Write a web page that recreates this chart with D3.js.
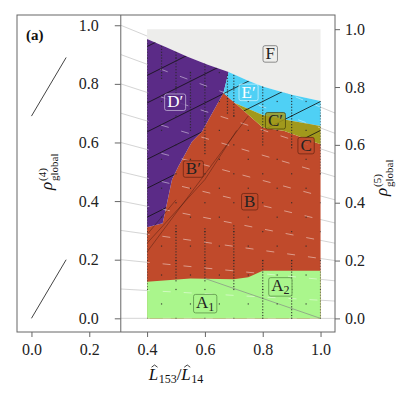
<!DOCTYPE html>
<html>
<head>
<meta charset="utf-8">
<script src="https://cdn.jsdelivr.net/npm/d3@7"></script>
<style>
  body { margin: 0; background: #fff; }
  svg text { font-family: "Liberation Serif", "DejaVu Serif", "Noto Serif", "Times New Roman", serif; }
</style>
</head>
<body>
<div id="chart"></div>
<script>
// ---- data (x = L153/L14, y = rho5 unless noted) ----
// lower edge of region F, left to right
var edgeTop = [[0.40,0.966],[0.47,0.936],[0.54,0.905],[0.61,0.877],[0.682,0.852],
               [0.75,0.822],[0.80,0.802],[0.90,0.773],[1.00,0.752]];
// edge between D' and B', top to bottom
var edgeDB = [[0.682,0.852],[0.664,0.779],[0.590,0.646],[0.555,0.611],[0.508,0.525],
              [0.486,0.479],[0.454,0.329],[0.40,0.315]];
// edge between E' and C'
var edgeEC = [[0.705,0.744],[0.80,0.703],[0.875,0.688],[1.00,0.665]];
// edge between C' and B
var edgeCB = [[0.705,0.744],[0.80,0.660],[0.875,0.648],[1.00,0.602]];
// edge between B and A
var edgeBA = [[0.40,0.127],[0.55,0.138],[0.70,0.135],[0.75,0.142],[0.80,0.165],[1.00,0.165]];
// line separating A1 / A2
var edgeA12 = [[0.60,0.138],[1.00,0.0]];

// sampled points
var gridX  = [0.4,0.5,0.6,0.7,0.8,0.9,1.0];
var gridY  = [0,0.1,0.2,0.3,0.4,0.5,0.6,0.7,0.8,0.9];
var gridX2 = [0.45,0.55,0.65,0.75,0.85,0.95];
var gridY2 = [0.05,0.15,0.25,0.35,0.45,0.55,0.65,0.75,0.85,0.95];
// refined columns: [x, from, to], sampled every 0.01
var columns = [[0.40,0.10,0.96],[0.45,0.83,0.94],[0.50,0.73,0.92],[0.50,0.13,0.32],
               [0.55,0.66,0.85],[0.60,0.57,0.88],[0.60,0.13,0.31],[0.678,0.71,0.84],
               [0.70,0.70,0.84],[0.70,0.11,0.32],[0.80,0.61,0.81],[0.80,0.0,0.20],
               [0.90,0.59,0.78],[0.90,0.0,0.20],[1.00,0.50,0.75],[1.00,0.0,0.20]];

// guide lines: rho4 at the split, rho5 at the right frame
var fanLeft  = [0,0.1,0.2,0.3,0.4,0.5,0.6,0.7,0.8,0.9,1.0];
var fanRight = [0,0.06,0.13,0.2,0.26,0.33,0.41,0.49,0.57,0.64,0.71];
// black contour lines in D', E', C' (rho at x=0.4, rho at x=1.0)
var contourStart = [0.94,0.84,0.745,0.645,0.55,0.45,0.35];
var contourEnd   = [1.24,1.14,1.045,0.945,0.85,0.75,0.65];
// black lines across B
var bLines = [[0.40,0.23,0.75,0.70],[0.40,0.26,0.60,0.48],[0.60,0.48,0.71,0.65],[0.40,0.29,0.50,0.41]];
// left panel segments (x, rho4)
var leftSegs = [[0,0.0,0.12,0.2],[0,0.69,0.12,0.89]];

// region labels
var labelBase = ["F","E","D","C","C","B","B","A","A"];
var labelMark = ["","\u2032","\u2032","\u2032","","\u2032","","",""];
var labelSub  = ["","","","","","","","1","2"];
var labelX    = [0.826,0.751,0.497,0.844,0.950,0.560,0.755,0.601,0.861];
var labelY    = [0.917,0.784,0.750,0.686,0.600,0.519,0.406,0.057,0.115];

var xTicks = [0,0.2,0.4,0.6,0.8,1.0];
var yTicks = [0,0.2,0.4,0.6,0.8,1.0];

// ---- drawing ----
var W = 408, H = 397;
var frame = {left: 17, top: 15, right: 335, bottom: 332};
var xSplit = 0.309;
var serif = "'Liberation Serif', 'DejaVu Serif', 'Noto Serif', 'Times New Roman', serif";

var x  = d3.scaleLinear().domain([-0.05, 1.05]).range([frame.left, frame.right]);
var y5 = d3.scaleLinear().domain([-0.047, 1.049]).range([frame.bottom, frame.top]);
var y4 = d3.scaleLinear().domain([-0.0467, 1.035]).range([frame.bottom, frame.top]);

var colF = "#ededeb", colD = "#5b2b87", colE = "#4fd0f5", colC = "#a1991c",
    colB = "#c04a2b", colA = "#aaf68c";

var svg = d3.select("#chart").append("svg").attr("width", W).attr("height", H);
var defs = svg.append("defs");

var line = d3.line();
function polyPath(arr) {
  return line(arr.map(function(d) { return [x(d[0]), y5(d[1])]; })) + "Z";
}

var regionF = [[0.4,1.0]].concat(edgeTop, [[1.0,1.0]]);
var regionD = edgeTop.slice(0,5).concat(edgeDB.slice(1));
var regionE = edgeTop.slice(4).concat(edgeEC.slice().reverse(), [edgeDB[1]]);
var regionC = edgeEC.concat(edgeCB.slice(1).reverse());
var regionB = edgeDB.slice(1).reverse().concat(edgeCB, [[1.0,0],[0.4,0]]);
var regionA = edgeBA.concat([[1.0,0],[0.4,0]]);
var regionAll = [[0.4,0]].concat(edgeTop, [[1.0,0]]);

defs.append("clipPath").attr("id","clipMain").append("rect")
  .attr("x", x(xSplit)).attr("y", frame.top)
  .attr("width", frame.right - x(xSplit)).attr("height", frame.bottom - frame.top);
defs.append("clipPath").attr("id","clipAll").append("path").attr("d", polyPath(regionAll));
var cUpper = defs.append("clipPath").attr("id","clipUpper");
[regionD, regionE, regionC].forEach(function(r) { cUpper.append("path").attr("d", polyPath(r)); });

// gray guide lines
var fan = fanLeft.map(function(v, i) { return [[x(xSplit), y4(v)], [x(1.05), y5(fanRight[i])]]; });
svg.append("g").attr("clip-path","url(#clipMain)")
  .selectAll("path").data(fan).enter().append("path")
  .attr("d", function(d) { return line(d); })
  .attr("stroke", "#cfcfcf").attr("stroke-width", 0.9).attr("fill", "none");

// regions
var regions = svg.append("g");
[[regionF,colF],[regionB,colB],[regionD,colD],[regionE,colE],[regionC,colC],[regionA,colA]]
  .forEach(function(r) {
    regions.append("path").attr("d", polyPath(r[0])).attr("fill", r[1]);
  });
regions.append("path").attr("d", line(edgeA12.map(function(d){ return [x(d[0]), y5(d[1])]; })))
  .attr("stroke", "#8a9a86").attr("stroke-width", 0.8).attr("fill", "none");

// light dashes over the coloured part
svg.append("g").attr("clip-path","url(#clipAll)")
  .selectAll("path").data(fan).enter().append("path")
  .attr("d", function(d) { return line(d); })
  .attr("stroke", "#fff").attr("stroke-opacity", 0.5).attr("stroke-width", 0.9)
  .attr("stroke-dasharray", "8,13").attr("fill", "none");

// black contour lines
svg.append("g").attr("clip-path","url(#clipUpper)")
  .selectAll("line").data(contourStart).enter().append("line")
  .attr("x1", x(0.4)).attr("y1", function(d) { return y5(d); })
  .attr("x2", x(1.0)).attr("y2", function(d, i) { return y5(contourEnd[i]); })
  .attr("stroke", "#111").attr("stroke-width", 0.8);
svg.append("g").selectAll("line").data(bLines).enter().append("line")
  .attr("x1", function(d) { return x(d[0]); }).attr("y1", function(d) { return y5(d[1]); })
  .attr("x2", function(d) { return x(d[2]); }).attr("y2", function(d) { return y5(d[3]); })
  .attr("stroke", "#1a0a05").attr("stroke-opacity", 0.6).attr("stroke-width", 0.55);

// sample points
var samples = [];
gridX.forEach(function(a) { gridY.forEach(function(b) { samples.push([a,b]); }); });
gridX2.forEach(function(a) { gridY2.forEach(function(b) { samples.push([a,b]); }); });
columns.forEach(function(c) {
  var n = Math.round((c[2] - c[1]) / 0.01);
  for (var k = 0; k <= n; k++) samples.push([c[0], c[1] + k * 0.01]);
});
svg.append("g").attr("clip-path","url(#clipAll)")
  .selectAll("rect").data(samples).enter().append("rect")
  .attr("x", function(d) { return x(d[0]) - 0.6; })
  .attr("y", function(d) { return y5(d[1]) - 0.6; })
  .attr("width", 1.2).attr("height", 1.2).attr("fill", "#2a2a2a").attr("fill-opacity", 0.85);

// region labels
var labelFill = [colF, colE, colD, colC, colB, colB, colB, colA, colA];
var labelText = ["#222","#fff","#fff","#222","#222","#222","#222","#222","#222"];
var labelEdge = ["#555","#e8f8ff","#d8d0e8","#3a3608","#5a1e0e","#5a1e0e","#5a1e0e","#4a7a3a","#4a7a3a"];
var labels = svg.append("g");
labelBase.forEach(function(b, i) {
  var g = labels.append("g");
  var t = g.append("text").attr("x", x(labelX[i])).attr("y", y5(labelY[i]) + 6)
    .attr("text-anchor", "middle").style("font-family", serif).attr("font-size", 17)
    .attr("fill", labelText[i]);
  t.append("tspan").text(b);
  if (labelMark[i]) t.append("tspan").text(labelMark[i]);
  if (labelSub[i]) t.append("tspan").attr("font-size", 12).attr("dy", 3).text(labelSub[i]);
  var bb = t.node().getBBox();
  g.insert("rect", "text")
    .attr("x", bb.x - 2.5).attr("y", bb.y + 1.5)
    .attr("width", bb.width + 5).attr("height", bb.height - 2.5)
    .attr("rx", 2).attr("fill", labelFill[i]).attr("fill-opacity", 0.85)
    .attr("stroke", labelEdge[i]).attr("stroke-opacity", 0.8).attr("stroke-width", 0.8);
});

// left panel segments
svg.append("g").selectAll("line").data(leftSegs).enter().append("line")
  .attr("x1", function(d) { return x(d[0]); }).attr("y1", function(d) { return y4(d[1]); })
  .attr("x2", function(d) { return x(d[2]); }).attr("y2", function(d) { return y4(d[3]); })
  .attr("stroke", "#444").attr("stroke-width", 1);

// frame + split
svg.append("rect").attr("x", frame.left).attr("y", frame.top)
  .attr("width", frame.right - frame.left).attr("height", frame.bottom - frame.top)
  .attr("fill", "none").attr("stroke", "#666").attr("stroke-width", 1);
svg.append("line").attr("x1", x(xSplit)).attr("x2", x(xSplit))
  .attr("y1", frame.top).attr("y2", frame.bottom)
  .attr("stroke", "#666").attr("stroke-width", 1);

// axes
var fmt = d3.format(".1f");
function styleAxis(g) {
  g.attr("font-family", null);
  g.select(".domain").remove();
  g.selectAll(".tick line").attr("stroke", "#666");
  g.selectAll(".tick text").attr("fill", "#222").attr("font-size", 16)
    .style("font-family", serif);
}
svg.append("g").attr("transform", "translate(0," + frame.bottom + ")")
  .call(d3.axisBottom(x).tickValues(xTicks).tickFormat(fmt).tickSize(5).tickPadding(7))
  .call(styleAxis);
svg.append("g").attr("transform", "translate(" + x(xSplit) + ",0)")
  .call(d3.axisLeft(y4).tickValues(yTicks).tickFormat(fmt).tickSize(6).tickPadding(16))
  .call(styleAxis);
svg.append("g").attr("transform", "translate(" + frame.right + ",0)")
  .call(d3.axisRight(y5).tickValues(yTicks).tickFormat(fmt).tickSize(5).tickPadding(5))
  .call(styleAxis);

// panel tag
svg.append("text").attr("x", 26).attr("y", 40).attr("font-size", 15)
  .style("font-family", serif).attr("font-weight", "bold").attr("fill", "#111").text("(a)");

// rho axis titles
function rhoTitle(cx, cy, sup) {
  var g = svg.append("g").attr("transform", "translate(" + cx + "," + cy + ") rotate(-90)");
  g.append("text").attr("x", -20).attr("y", 0).attr("font-size", 17).style("font-family", serif)
    .attr("font-style", "italic").attr("fill", "#111").text("\u03c1");
  g.append("text").attr("x", -11).attr("y", -6.5).attr("font-size", 11).style("font-family", serif)
    .attr("fill", "#111").text(sup);
  g.append("text").attr("x", -11).attr("y", 5.5).attr("font-size", 11).style("font-family", serif)
    .attr("fill", "#111").text("global");
}
rhoTitle(52, 170, "(4)");
rhoTitle(387, 176, "(5)");

// x title
var xt = svg.append("text").attr("x", (frame.left + frame.right) / 2).attr("y", 380)
  .attr("text-anchor", "middle").style("font-family", serif).attr("font-size", 17).attr("fill", "#111");
xt.append("tspan").attr("font-style", "italic").text("L");
xt.append("tspan").attr("font-size", 12).attr("dy", 3).attr("dx", 0.5).text("153");
xt.append("tspan").attr("dy", -3).text("/");
xt.append("tspan").attr("font-style", "italic").text("L");
xt.append("tspan").attr("font-size", 12).attr("dy", 3).attr("dx", 0.5).text("14");
// hats over both L
[0, 5].forEach(function(ci) {
  var r = xt.node().getExtentOfChar(ci);
  var cx = r.x + r.width * 0.62, top = 365;
  svg.append("path").attr("d", "M" + (cx - 3) + "," + (top + 2.2) + "L" + cx + "," + top + "L" + (cx + 3) + "," + (top + 2.2))
    .attr("fill", "none").attr("stroke", "#111").attr("stroke-width", 0.8);
});
</script>
</body>
</html>
